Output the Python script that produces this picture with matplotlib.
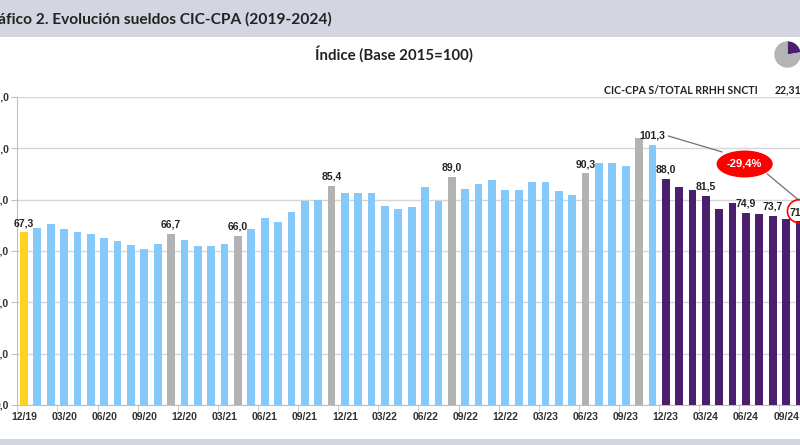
import matplotlib.pyplot as plt
from matplotlib.patches import Ellipse

# Monthly index of CIC-CPA salaries (base 2015=100)
meses = ["12/19",
         "01/20", "02/20", "03/20", "04/20", "05/20", "06/20", "07/20", "08/20", "09/20", "10/20", "11/20", "12/20",
         "01/21", "02/21", "03/21", "04/21", "05/21", "06/21", "07/21", "08/21", "09/21", "10/21", "11/21", "12/21",
         "01/22", "02/22", "03/22", "04/22", "05/22", "06/22", "07/22", "08/22", "09/22", "10/22", "11/22", "12/22",
         "01/23", "02/23", "03/23", "04/23", "05/23", "06/23", "07/23", "08/23", "09/23", "10/23", "11/23", "12/23",
         "01/24", "02/24", "03/24", "04/24", "05/24", "06/24", "07/24", "08/24", "09/24", "10/24"]
indice = [67.3,
          69.1, 70.5, 68.6, 67.4, 66.6, 65.1, 64.0, 62.4, 60.7, 62.7, 66.7, 64.3,
          62.1, 62.1, 62.7, 66.0, 68.6, 73.0, 71.2, 75.1, 79.5, 79.8, 85.4, 82.7,
          82.7, 82.7, 77.6, 76.4, 77.2, 85.1, 79.4, 89.0, 84.2, 86.1, 87.8, 83.7,
          83.9, 86.7, 86.8, 83.5, 82.0, 90.3, 94.4, 94.2, 93.1, 103.9, 101.3, 88.0,
          85.0, 83.9, 81.5, 76.3, 78.6, 74.9, 74.6, 73.7, 72.6, 71.5]
meses_gris = ["11/20", "04/21", "11/21", "08/22", "06/23", "10/23"]
inicio_gestion = "12/23"
meses_etiqueta = ["12/19", "11/20", "04/21", "11/21", "08/22", "06/23",
                  "11/23", "12/23", "03/24", "06/24", "08/24", "10/24"]
mes_pico, mes_ultimo = "11/23", "10/24"
participacion = [22.31, 100 - 22.31]

AMARILLO = "#FFD221"
CELESTE = "#85C9FB"
GRIS = "#B2B2B2"
VIOLETA = "#4A1F6E"
BANDA = "#D3D6E1"

x = list(range(len(meses)))
k0 = meses.index(inicio_gestion)
colores = []
for i, m in enumerate(meses):
    if i == 0:
        colores.append(AMARILLO)
    elif m in meses_gris:
        colores.append(GRIS)
    elif i >= k0:
        colores.append(VIOLETA)
    else:
        colores.append(CELESTE)

fig = plt.figure(figsize=(8, 4.45), dpi=100)
fig.patch.set_facecolor("white")

# header band and bottom band
fig.patches.append(plt.Rectangle((0, 1 - 37 / 445), 1, 37 / 445, transform=fig.transFigure,
                                 facecolor=BANDA, edgecolor="none", zorder=0))
fig.patches.append(plt.Rectangle((0, 0), 1, 6 / 445, transform=fig.transFigure,
                                 facecolor=BANDA, edgecolor="none", zorder=0))
fig.text(332 / 800, 1 - 19 / 445, "Gráfico 2. Evolución sueldos CIC-CPA (2019-2024)",
         ha="right", va="center", fontsize=11.2, fontweight="bold", family="Lato", color="#222222")
fig.text(394 / 800, 1 - 54 / 445, "Índice (Base 2015=100)", ha="center", va="center",
         fontsize=10.8, fontweight="bold", family="Lato", color="#222222")
fig.text(604 / 800, 1 - 90 / 445, "CIC-CPA S/TOTAL RRHH SNCTI", ha="left", va="center",
         fontsize=7.6, fontweight="bold", family="Lato", color="#222222")
fig.text(775 / 800, 1 - 90 / 445, "22,31%", ha="left", va="center",
         fontsize=7.6, fontweight="bold", family="Lato", color="#222222")

# main axes (right part runs off the canvas like in the source image)
left = 17.3 / 800
ax = fig.add_axes([left, 40 / 445, 1 - left, 308 / 445])
ax.bar(x, indice, width=0.58, color=colores, zorder=3)
ax.set_ylim(0, 120)
ax.set_xlim(-0.5, 58.04)
ax.set_yticks(range(0, 121, 20))
ax.set_yticklabels([f"{v},0" for v in range(0, 121, 20)])
ax.grid(axis="y", color="#D6D6D6", linewidth=1, zorder=0)
for s in ["top", "right"]:
    ax.spines[s].set_visible(False)
for s in ["left", "bottom"]:
    ax.spines[s].set_color("#BFBFBF")

ax.set_xticks(x[::3])
ax.set_xticklabels(meses[::3])
ax.set_xticks([i - 0.5 for i in x[::3]], minor=True)
ax.tick_params(axis="x", which="major", length=0, pad=5)
ax.tick_params(axis="x", which="minor", length=4, color="#BFBFBF")
ax.tick_params(axis="y", length=4, color="#BFBFBF", pad=2)
for lab in ax.get_xticklabels() + ax.get_yticklabels():
    lab.set_family("Liberation Sans")
    lab.set_fontweight("bold")
    lab.set_fontsize(7.5)
    lab.set_color("#333333")

# data labels
for m in meses_etiqueta:
    i = meses.index(m)
    ax.annotate(f"{indice[i]:.1f}".replace(".", ","), (i, indice[i]), xytext=(0, 3),
                textcoords="offset points", ha="center", va="bottom", fontsize=7.5,
                fontweight="bold", family="Liberation Sans", color="#222222",
                zorder=5, annotation_clip=False)

# drop between peak and last month
ip, iu = meses.index(mes_pico), meses.index(mes_ultimo)
caida = (indice[iu] / indice[ip] - 1) * 100
ax.plot([48.2, 52.2], [104.8, 98.6], color="#707070", lw=0.9, zorder=4, clip_on=False)
ax.plot([55.6, 57.9], [90.0, 80.0], color="#707070", lw=0.9, zorder=4, clip_on=False)
ax.add_patch(Ellipse((53.9, 93.9), 4.2, 10.5, facecolor="#FF0000", edgecolor="none",
                     zorder=6, clip_on=False))
ax.text(53.9, 93.9, f"{caida:.1f}%".replace(".", ","), ha="center", va="center",
        fontsize=8, fontweight="bold", family="Liberation Sans", color="white", zorder=7)
ax.add_patch(Ellipse((iu, 75.5), 1.8, 9.0, facecolor="none", edgecolor="#FF0000",
                     lw=1.2, zorder=6, clip_on=False))

# small pie icon
pax = fig.add_axes([771 / 800, 1 - 71 / 445, 33 / 800, 33 / 445])
pax.pie(participacion, colors=[VIOLETA, "#B4B4B4"], startangle=90, counterclock=False)
pax.set_aspect("equal")

fig.savefig("out.png", dpi=100)
